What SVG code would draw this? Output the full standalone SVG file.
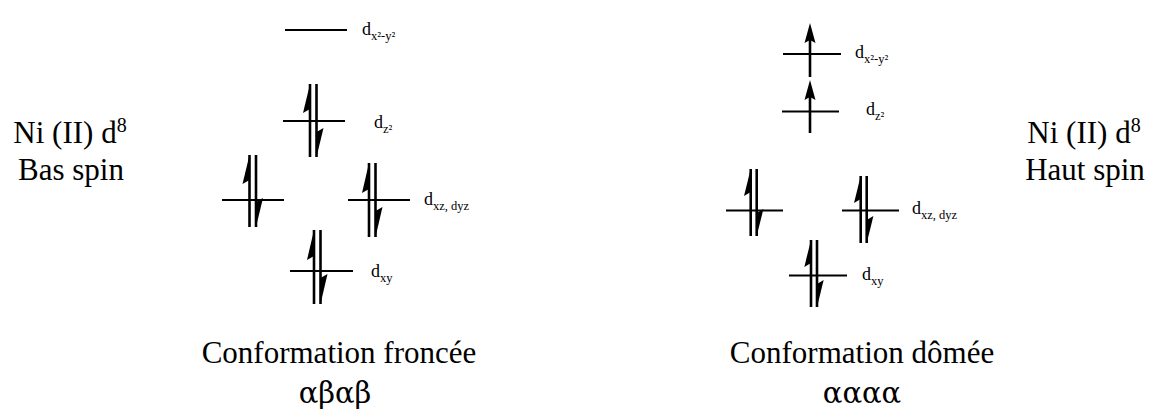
<svg xmlns="http://www.w3.org/2000/svg" width="1149" height="409" viewBox="0 0 1149 409">
<style>
  .lvl{stroke:#000;stroke-width:2;fill:none}
  .sh{stroke:#000;stroke-width:2.6;fill:none}
  .hd{fill:#000;stroke:none}
  .t{font-family:"Liberation Serif","Times New Roman",serif;fill:#000}
  .big{font-size:31px}
  .lab{font-size:18px}
  .sub{font-size:12.5px}
  .gr{font-family:"DejaVu Serif","Liberation Serif",serif;font-size:29px}
</style>
<rect width="1149" height="409" fill="#fff"/>

<!-- Left diagram: Bas spin -->
<g id="left-dx2y2">
  <line class="lvl" x1="285" y1="30" x2="347" y2="30"/>
  <text class="t lab" x="362" y="35">d<tspan class="sub" dy="5">x²-y²</tspan></text>
</g>
<g id="left-dz2">
  <line class="lvl" x1="283" y1="121" x2="345" y2="121"/>
  <line class="sh" x1="310" y1="84" x2="310" y2="157"/>
  <polygon class="hd" points="310,84 303,113 310,109"/>
  <line class="sh" x1="316.5" y1="84" x2="316.5" y2="157"/>
  <polygon class="hd" points="316.5,157 323.5,128 316.5,132"/>
  <text class="t lab" x="374" y="128">d<tspan class="sub" dy="5">z²</tspan></text>
</g>
<g id="left-dxz">
  <line class="lvl" x1="222" y1="200" x2="284" y2="200"/>
  <line class="sh" x1="249.5" y1="155" x2="249.5" y2="227"/>
  <polygon class="hd" points="249.5,155 242.5,184 249.5,180"/>
  <line class="sh" x1="256" y1="155" x2="256" y2="227"/>
  <polygon class="hd" points="256,227 263,198 256,202"/>
</g>
<g id="left-dyz">
  <line class="lvl" x1="348" y1="200" x2="410" y2="200"/>
  <line class="sh" x1="369" y1="163" x2="369" y2="237"/>
  <polygon class="hd" points="369,163 362,193 369,189"/>
  <line class="sh" x1="375.5" y1="163" x2="375.5" y2="237"/>
  <polygon class="hd" points="375.5,237 382.5,207 375.5,211"/>
  <text class="t lab" x="424" y="205">d<tspan class="sub" dy="5">xz, dyz</tspan></text>
</g>
<g id="left-dxy">
  <line class="lvl" x1="290" y1="271" x2="353" y2="271"/>
  <line class="sh" x1="314" y1="230" x2="314" y2="304"/>
  <polygon class="hd" points="314,230 307,260 314,256"/>
  <line class="sh" x1="320.5" y1="230" x2="320.5" y2="304"/>
  <polygon class="hd" points="320.5,304 327.5,274 320.5,278"/>
  <text class="t lab" x="371" y="277">d<tspan class="sub" dy="5">xy</tspan></text>
</g>

<!-- Right diagram: Haut spin -->
<g id="right-dx2y2">
  <line class="lvl" x1="783" y1="54" x2="841" y2="54"/>
  <line class="sh" x1="810" y1="38" x2="810" y2="77"/>
  <polygon class="hd" points="810,23 804.5,43 810,40 815.5,43"/>
  <text class="t lab" x="855" y="58">d<tspan class="sub" dy="5">x²-y²</tspan></text>
</g>
<g id="right-dz2">
  <line class="lvl" x1="782" y1="111.5" x2="839" y2="111.5"/>
  <line class="sh" x1="810" y1="95" x2="810" y2="133"/>
  <polygon class="hd" points="810,80 804.5,100 810,97 815.5,100"/>
  <text class="t lab" x="866" y="115">d<tspan class="sub" dy="5">z²</tspan></text>
</g>
<g id="right-dxz">
  <line class="lvl" x1="726" y1="210.5" x2="783" y2="210.5"/>
  <line class="sh" x1="750.7" y1="169" x2="750.7" y2="236"/>
  <polygon class="hd" points="750.7,169 744,196 750.7,192"/>
  <line class="sh" x1="756.7" y1="169" x2="756.7" y2="236"/>
  <polygon class="hd" points="756.7,236 763.4,209 756.7,213"/>
</g>
<g id="right-dyz">
  <line class="lvl" x1="842" y1="210.5" x2="899" y2="210.5"/>
  <line class="sh" x1="860.7" y1="176" x2="860.7" y2="243"/>
  <polygon class="hd" points="860.7,176 854,203 860.7,199"/>
  <line class="sh" x1="866.7" y1="176" x2="866.7" y2="243"/>
  <polygon class="hd" points="866.7,243 873.4,216 866.7,220"/>
  <text class="t lab" x="912" y="214">d<tspan class="sub" dy="5">xz, dyz</tspan></text>
</g>
<g id="right-dxy">
  <line class="lvl" x1="789" y1="275.5" x2="847" y2="275.5"/>
  <line class="sh" x1="811" y1="240" x2="811" y2="307"/>
  <polygon class="hd" points="811,240 804.3,267 811,263"/>
  <line class="sh" x1="817" y1="240" x2="817" y2="307"/>
  <polygon class="hd" points="817,307 823.7,280 817,284"/>
  <text class="t lab" x="862" y="280">d<tspan class="sub" dy="5">xy</tspan></text>
</g>

<!-- Side labels -->
<g id="label-bas-spin">
  <text class="t big" x="70" y="143" text-anchor="middle">Ni (II) d<tspan font-size="20" dy="-11">8</tspan></text>
  <text class="t big" x="71" y="180" text-anchor="middle">Bas spin</text>
</g>
<g id="label-haut-spin">
  <text class="t big" x="1084" y="143" text-anchor="middle">Ni (II) d<tspan font-size="20" dy="-11">8</tspan></text>
  <text class="t big" x="1085" y="180" text-anchor="middle">Haut spin</text>
</g>

<!-- Captions -->
<g id="caption-froncee">
  <text class="t big" x="339" y="363" text-anchor="middle">Conformation froncée</text>
  <text class="t gr" x="335" y="403" text-anchor="middle">αβαβ</text>
</g>
<g id="caption-domee">
  <text class="t big" x="862" y="363" text-anchor="middle">Conformation dômée</text>
  <text class="t gr" x="862" y="403" text-anchor="middle">αααα</text>
</g>
</svg>
